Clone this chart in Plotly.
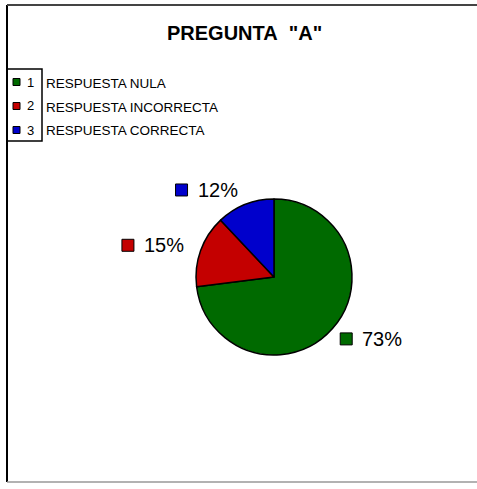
import math
import plotly.graph_objects as go

# ---- data ----
CATEGORIES = ["RESPUESTA NULA", "RESPUESTA INCORRECTA", "RESPUESTA CORRECTA"]
LEGEND_NUMBERS = ["1", "2", "3"]
VALUES = [73, 15, 12]
COLORS = ["#006a00", "#c40000", "#0000cc"]
TITLE = 'PREGUNTA  "A"'

W, H = 477, 489
FONT = "Liberation Sans, Arial, sans-serif"


def px(x):
    return x / W


def py(y):
    return 1 - y / H


# pie geometry (pixels)
CX, CY, R = 274, 277, 78

fig = go.Figure()
fig.add_trace(go.Pie(
    values=VALUES,
    labels=CATEGORIES,
    sort=False,
    direction="clockwise",
    rotation=0,
    marker=dict(colors=COLORS, line=dict(color="black", width=1.5)),
    textinfo="none",
    hoverinfo="label+percent",
    showlegend=False,
    domain=dict(x=[px(CX - R), px(CX + R)], y=[py(CY + R), py(CY - R)]),
))

shapes = []
annotations = []

# frame
shapes.append(dict(type="line", xref="paper", yref="paper", x0=px(7), x1=px(7), y0=py(5), y1=py(482),
                   line=dict(color="black", width=2)))
shapes.append(dict(type="line", xref="paper", yref="paper", x0=px(7), x1=px(477), y0=py(5), y1=py(5),
                   line=dict(color="#444444", width=2)))
shapes.append(dict(type="line", xref="paper", yref="paper", x0=px(7), x1=px(477), y0=py(482), y1=py(482),
                   line=dict(color="#999999", width=1.5)))

# title
annotations.append(dict(text="<b>" + TITLE.replace(" ", "&nbsp;") + "</b>", x=px(245), y=py(33),
                        xref="paper", yref="paper", showarrow=False, xanchor="center", yanchor="middle",
                        font=dict(family=FONT, size=20, color="black")))

# legend box
shapes.append(dict(type="rect", xref="paper", yref="paper", x0=px(7), x1=px(42), y0=py(69), y1=py(141),
                   line=dict(color="black", width=1.5), fillcolor="rgba(0,0,0,0)"))
ROW_Y = [82, 106, 130]
for i, (num, lab, col) in enumerate(zip(LEGEND_NUMBERS, CATEGORIES, COLORS)):
    yy = ROW_Y[i]
    shapes.append(dict(type="rect", xref="paper", yref="paper", x0=px(13), x1=px(20),
                       y0=py(yy + 3.5), y1=py(yy - 3.5),
                       line=dict(color="black", width=1), fillcolor=col))
    annotations.append(dict(text=num, x=px(30), y=py(yy), xref="paper", yref="paper", showarrow=False,
                            xanchor="center", yanchor="middle",
                            font=dict(family=FONT, size=13, color="black")))
    annotations.append(dict(text=lab, x=px(44), y=py(yy + 1), xref="paper", yref="paper", showarrow=False,
                            xanchor="left", yanchor="middle",
                            font=dict(family=FONT, size=13.5, color="black")))

# percentage labels, positioned from the slice mid-angles
total = sum(VALUES)
cum = 0
LR = R * 1.2
for v, col in zip(VALUES, COLORS):
    mid = (cum + v / 2) / total * 2 * math.pi
    cum += v
    s = 1 if math.sin(mid) >= 0 else -1
    ex = CX + LR * math.sin(mid)
    ey = CY - LR * math.cos(mid)
    gx = ex + s * 30
    gy = ey
    shapes.append(dict(type="rect", xref="paper", yref="paper", x0=px(gx - 34), x1=px(gx - 22),
                       y0=py(gy + 6), y1=py(gy - 6),
                       line=dict(color="black", width=1), fillcolor=col))
    pct = round(v / total * 100)
    annotations.append(dict(text=f"{pct}%", x=px(gx - 14), y=py(gy), xref="paper", yref="paper",
                            showarrow=False, xanchor="left", yanchor="middle",
                            font=dict(family=FONT, size=20, color="black")))

fig.update_layout(
    width=W, height=H,
    margin=dict(l=0, r=0, t=0, b=0),
    paper_bgcolor="white", plot_bgcolor="white",
    shapes=shapes, annotations=annotations,
    showlegend=False,
)

fig.write_html("out.html", config={"displayModeBar": False},
               post_script="document.body.style.margin='0';")
